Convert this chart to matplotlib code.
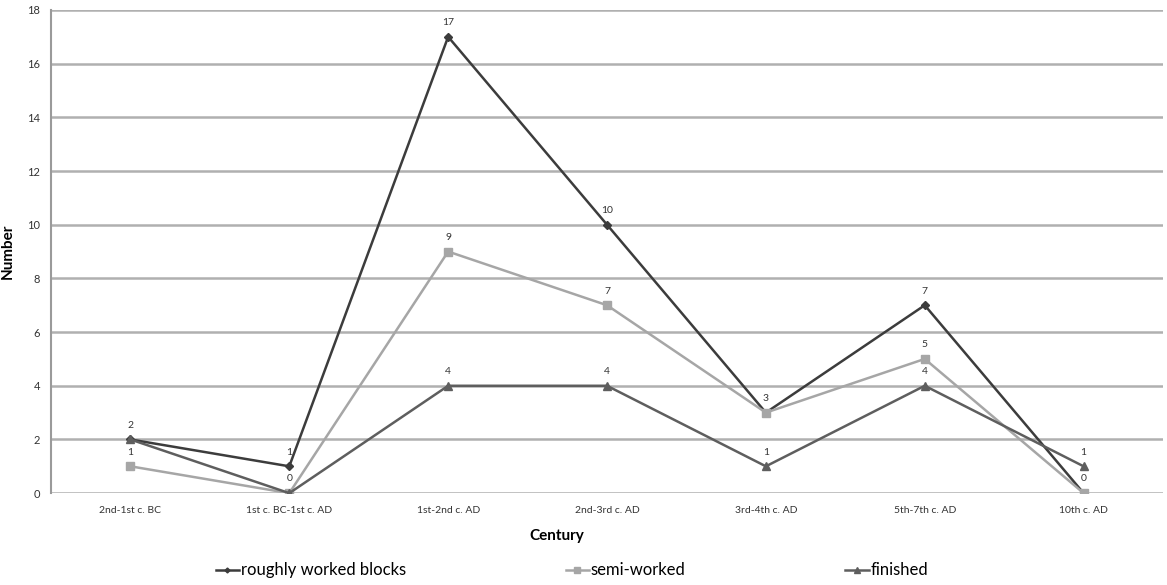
import numpy as np
import matplotlib
matplotlib.use("Agg")
import matplotlib.pyplot as plt
from matplotlib.lines import Line2D

plt.rcParams['font.family'] = ['Lato', 'DejaVu Sans']

centuries = ["2nd-1st c. BC", "1st c. BC-1st c. AD", "1st-2nd c. AD", "2nd-3rd c. AD",
             "3rd-4th c. AD", "5th-7th c. AD", "10th c. AD"]
rough = [2, 1, 17, 10, 3, 7, 0]
semi = [1, 0, 9, 7, 3, 5, 0]
finished = [2, 0, 4, 4, 1, 4, 1]

series = [
    ("roughly worked blocks", rough, "#3c3c3c", "D", 4),
    ("semi-worked", semi, "#a6a6a6", "s", 6),
    ("finished", finished, "#5e5e5e", "^", 6),
]

fig = plt.figure(figsize=(11.67, 5.85), dpi=100)
ax = fig.add_axes([0.0437, 0.157, 0.9529, 0.826])
x = np.arange(len(centuries))

# gridlines
ax.set_ylim(0, 18)
ax.set_xlim(-0.5, len(centuries) - 0.5)
ax.set_yticks(range(0, 19, 2))
ax.yaxis.grid(True, color="#b0b0b0", linewidth=1.8)
ax.set_axisbelow(True)
for s in ["top", "right", "bottom"]:
    ax.spines[s].set_visible(False)
ax.spines["left"].set_color("#9a9a9a")
ax.spines["left"].set_linewidth(1.5)

for name, vals, col, mk, ms in series:
    ax.plot(x, vals, color=col, marker=mk, markersize=ms, linewidth=1.8, label=name, zorder=3)

# data labels (one per distinct value at each category)
for i in range(len(centuries)):
    seen = set()
    for name, vals, col, mk, ms in series:
        v = vals[i]
        if v in seen:
            continue
        seen.add(v)
        ax.annotate(str(v), (x[i], v), xytext=(0, 7), textcoords="offset points",
                    ha="center", va="bottom", fontsize=7.5, color="#333333")

ax.set_xticks(x)
ax.set_xticklabels(centuries, fontsize=7.5, color="#333333")
ax.tick_params(axis="both", length=0, pad=9)
ax.tick_params(axis="y", labelsize=8, labelcolor="#333333", pad=8)
ax.set_xlabel("Century", fontsize=11, fontweight="bold", labelpad=10, x=0.455)
ax.set_ylabel("Number", fontsize=11, fontweight="bold")
ax.yaxis.set_label_coords(-0.033, 0.5)

handles = [Line2D([0], [0], color=col, marker=mk, markersize=ms - 1.5, linewidth=1.8)
           for name, vals, col, mk, ms in series]
fig.legend(handles, [s[0] for s in series], loc="center", bbox_to_anchor=(0.49, 0.025),
           ncol=3, frameon=False, fontsize=12, columnspacing=9.6, handlelength=1.4,
           handletextpad=0.1)

fig.savefig("out.png", dpi=100)
